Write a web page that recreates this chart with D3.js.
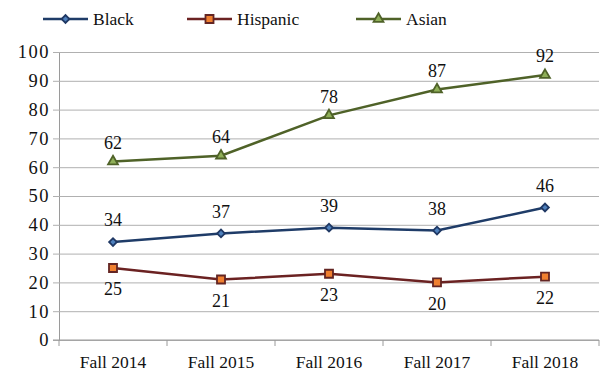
<!DOCTYPE html>
<html>
<head>
<meta charset="utf-8">
<script src="https://cdn.jsdelivr.net/npm/d3@7"></script>
<style>
  body { margin: 0; background: #fff; }
  svg { display: block; }
</style>
</head>
<body>
<svg width="603" height="376"></svg>
<script>
const categories = ['Fall 2014', 'Fall 2015', 'Fall 2016', 'Fall 2017', 'Fall 2018'];
const black = [34, 37, 39, 38, 46];
const hispanic = [25, 21, 23, 20, 22];
const asian = [62, 64, 78, 87, 92];
const yTicks = [0, 10, 20, 30, 40, 50, 60, 70, 80, 90, 100];

// marker styling per series; diamond = square turned 45deg
const series = [
  { name: 'Black', values: black, line: '#1f3c68', fill: '#4f81bd', stroke: '#1f3864', symbol: d3.symbolSquare, size: 30, rot: 45, labelDy: -22, legendX: 43 },
  { name: 'Hispanic', values: hispanic, line: '#6b2222', fill: '#f08030', stroke: '#632523', symbol: d3.symbolSquare, size: 64, rot: 0, labelDy: 21, legendX: 187 },
  { name: 'Asian', values: asian, line: '#4f6228', fill: '#8faf58', stroke: '#4f6228', symbol: d3.symbolTriangle, size: 42, rot: 0, labelDy: -19, legendX: 356 },
];

const FONT = "'Liberation Serif', 'Times New Roman', Times, serif";

const svg = d3.select('svg').style('font-family', FONT);
const plotLeft = 59, plotRight = 599, plotTop = 52, plotBottom = 340;

const x = d3.scaleBand().domain(categories).range([plotLeft, plotRight]);
const y = d3.scaleLinear().domain([0, 100]).range([plotBottom, plotTop]);

// grid + y axis
const yAxis = d3.axisLeft(y).tickValues(yTicks).tickSize(-(plotRight - plotLeft)).tickPadding(9);
const gy = svg.append('g').attr('transform', `translate(${plotLeft},0)`).call(yAxis);
gy.attr('font-family', FONT).attr('font-size', null);
gy.select('.domain').attr('stroke', '#9a9a9a');
gy.selectAll('.tick line').attr('stroke', '#b0b0b0').attr('x1', -6);
gy.selectAll('.tick text')
  .style('font-family', FONT)
  .style('font-size', '18.5px')
  .style('letter-spacing', '1.5px')
  .attr('fill', '#111');

// x axis with ticks between categories
const gx = svg.append('g').attr('transform', `translate(0,${plotBottom})`);
gx.append('line').attr('x1', plotLeft - 6).attr('x2', plotRight).attr('stroke', '#9a9a9a');
const bounds = categories.map(c => x(c)).concat([plotRight]);
gx.selectAll('line.tk').data(bounds).join('line')
  .attr('class', 'tk')
  .attr('x1', d => d).attr('x2', d => d)
  .attr('y1', 0).attr('y2', 6)
  .attr('stroke', '#9a9a9a');
gx.selectAll('text').data(categories).join('text')
  .attr('x', d => x(d) + x.bandwidth() / 2)
  .attr('y', 28)
  .attr('text-anchor', 'middle')
  .style('font-family', FONT)
  .style('font-size', '17.5px')
  .attr('fill', '#111')
  .text(d => d);

const line = d3.line()
  .x((d, i) => x(categories[i]) + x.bandwidth() / 2)
  .y(d => y(d));

series.forEach((s) => {
  const g = svg.append('g');
  g.append('path')
    .attr('d', line(s.values))
    .attr('fill', 'none')
    .attr('stroke', s.line)
    .attr('stroke-width', 2.5);
  const sym = d3.symbol().type(s.symbol).size(s.size);
  g.selectAll('path.pt').data(s.values).join('path')
    .attr('class', 'pt')
    .attr('d', sym)
    .attr('transform', (d, i) => `translate(${x(categories[i]) + x.bandwidth() / 2},${y(d)}) rotate(${s.rot})`)
    .attr('fill', s.fill)
    .attr('stroke', s.stroke)
    .attr('stroke-width', 1.8);
  g.selectAll('text').data(s.values).join('text')
    .attr('x', (d, i) => x(categories[i]) + x.bandwidth() / 2)
    .attr('y', d => y(d) + s.labelDy)
    .attr('dy', '0.35em')
    .attr('text-anchor', 'middle')
    .style('font-family', FONT)
    .style('font-size', '18px')
    .attr('fill', '#111')
    .text(d => d);

  // legend
  const lg = svg.append('g').attr('transform', `translate(${s.legendX},19)`);
  lg.append('line').attr('x1', 0).attr('x2', 45).attr('stroke', s.line).attr('stroke-width', 2.5);
  lg.append('path').attr('d', sym).attr('transform', `translate(22.5,0) rotate(${s.rot})`)
    .attr('fill', s.fill).attr('stroke', s.stroke).attr('stroke-width', 1.8);
  lg.append('text').attr('x', 50).attr('dy', '0.35em')
    .style('font-family', FONT)
    .style('font-size', '17.5px')
    .attr('fill', '#111')
    .text(s.name);
});
</script>
</body>
</html>
